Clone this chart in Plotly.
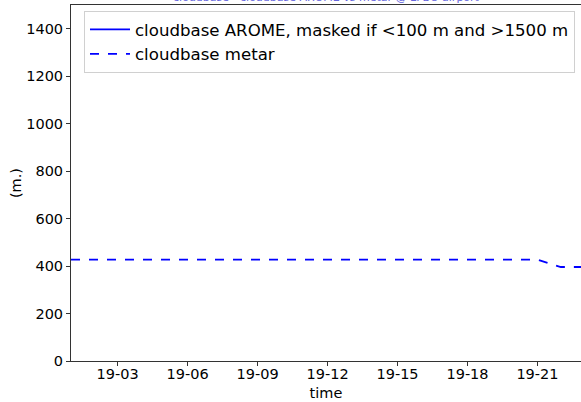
import plotly.graph_objects as go
import pandas as pd

times = pd.date_range("2024-03-19 01:00", "2024-03-19 23:00", freq="h")
metar_cloudbase = [427] * 21 + [396, 396]
arome_cloudbase = [None] * len(times)
y_ticks = [0, 200, 400, 600, 800, 1000, 1200, 1400]
x_ticks = pd.date_range("2024-03-19 03:00", "2024-03-19 21:00", freq="3h")
x_tick_labels = [t.strftime("%d-%H") for t in x_ticks]

fig = go.Figure()
fig.add_trace(go.Scatter(x=times, y=arome_cloudbase, mode="lines",
                         name="cloudbase AROME, masked if <100 m and >1500 m",
                         line=dict(color="blue", width=1.8)))
fig.add_trace(go.Scatter(x=times, y=metar_cloudbase, mode="lines",
                         name="cloudbase metar",
                         line=dict(color="blue", width=1.8, dash="dash")))

fig.update_layout(
    width=581, height=402,
    margin=dict(l=71, r=0, t=5, b=41, autoexpand=False),
    plot_bgcolor="white", paper_bgcolor="white",
    font=dict(family="DejaVu Sans", size=14.5, color="black"),
    title=dict(text="cloudbase - cloudbase AROME vs metar @ LFBO airport",
               x=0.5, xref="paper", xanchor="center",
               y=1 - 1 / 402, yref="container", yanchor="bottom",
               font=dict(size=11, color="#6666dd")),
    showlegend=True,
    legend=dict(x=13 / 510, y=1 - 6 / 356, xanchor="left", yanchor="top",
                bgcolor="rgba(255,255,255,0.8)", bordercolor="#d0d0d0",
                borderwidth=1, font=dict(size=16.6), tracegroupgap=0,
                itemwidth=40),
    xaxis=dict(range=[pd.Timestamp("2024-03-19 01:00"), pd.Timestamp("2024-03-19 22:52")],
               tickvals=x_ticks, ticktext=x_tick_labels,
               showgrid=False, zeroline=False, showline=True, linecolor="#333333",
               mirror=True, ticks="outside", ticklen=4, tickcolor="#333333",
               tickfont=dict(size=14.5), ticklabelstandoff=-4,
               title=dict(text="time", font=dict(size=14.5), standoff=6)),
    yaxis=dict(range=[0, 1500], tickvals=y_ticks,
               showgrid=False, zeroline=False, showline=True, linecolor="#333333",
               mirror=True, ticks="outside", ticklen=4, tickcolor="#333333",
               tickfont=dict(size=14.5),
               title=dict(text="(m.)", font=dict(size=14.5), standoff=1)),
)

fig.write_html("out.html", config={"displayModeBar": False},
               post_script="document.body.style.margin='0';")
